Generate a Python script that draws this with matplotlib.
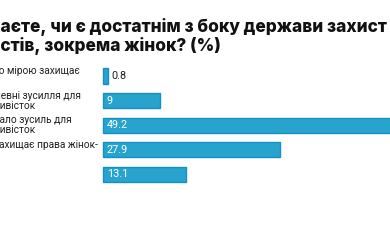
import matplotlib
matplotlib.use("Agg")
import matplotlib.pyplot as plt
from matplotlib.font_manager import FontProperties

categories = [
    "Достатньою мірою захищає\nактивісток",
    "Докладає певні зусилля для\nзахисту активісток",
    "Робить замало зусиль для\nзахисту активісток",
    "Зовсім не захищає права жінок-\nзахисниць",
    "Не знаю",
]
values = [0.8, 9, 49.2, 27.9, 13.1]
title_line1 = "Чи вважаєте, чи є достатнім з боку держави захист прав"
title_line2 = "активістів, зокрема жінок? (%)"

W, H, DPI = 390, 240, 100
fig = plt.figure(figsize=(W / DPI, H / DPI), dpi=DPI)
renderer = fig.canvas.get_renderer()

bar_color = "#27a3cd"
edge_color = "#1590c2"


def width_px(txt, fp):
    w, h, d = renderer.get_text_width_height_descent(txt, fp, ismath=False)
    return w


def fit_size(txt, family, weight, target_px):
    fp = FontProperties(family=family, weight=weight, size=10)
    return 10 * target_px / width_px(txt, fp)


ax_left_px = 103
px_per_unit = 6.33
ax_w_px = W - ax_left_px
centers_top = 76
step = 24.6
top_px = centers_top - step / 2
bot_px = centers_top + step * 4.5
ax = fig.add_axes([ax_left_px / W, (H - bot_px) / H, ax_w_px / W, (bot_px - top_px) / H])
ax.set_xlim(0, ax_w_px / px_per_unit)
ax.set_ylim(len(values) - 0.5, -0.5)
ax.axis("off")

ypos = list(range(len(values)))
ax.barh(ypos, values, height=0.62, color=bar_color, edgecolor=edge_color, linewidth=1.0, clip_on=False)

for y, v in zip(ypos, values):
    s = f"{v:g}"
    if v < 2:
        ax.text(v + 0.6, y, s, va="center", ha="left", fontsize=7.8, color="#222222", family="Roboto")
    else:
        ax.text(0.6, y, s, va="center", ha="left", fontsize=7.8, color="white", family="Roboto")

# category labels: left-aligned, partly outside the figure on the left
lab_size = fit_size("евні зусилля для", "Roboto", "normal", 81)
lab_fp = FontProperties(family="Roboto", size=lab_size)
lab_x_px = -width_px("захисту ак", lab_fp) - 5
for y, lab in zip(ypos, categories):
    ax.text((lab_x_px - ax_left_px) / ax_w_px, y, lab, transform=ax.get_yaxis_transform(),
            ha="left", va="center", fontproperties=lab_fp, color="#222222", linespacing=1.0)

# title lines, clipped on the left
t_size = fit_size("аєте, чи є достатнім з боку держави захист" + "стів, зокрема жінок? (%)",
                  "Inter", 800, 394 + 212)
t_fp = FontProperties(family="Inter", weight=800, size=t_size)
x1 = -width_px("Чи вваж", t_fp)
x2 = -width_px("активі", t_fp)
fig.text(x1 / W, 1 - 27 / H, title_line1, ha="left", va="center", fontproperties=t_fp, color="#111111")
fig.text(x2 / W, 1 - 46 / H, title_line2, ha="left", va="center", fontproperties=t_fp, color="#111111")

fig.savefig("out.png", dpi=DPI, facecolor="white")
